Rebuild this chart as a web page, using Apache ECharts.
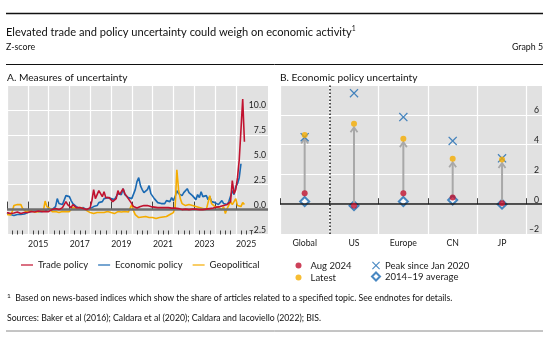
<!DOCTYPE html>
<html><head><meta charset="utf-8">
<script src="https://cdn.jsdelivr.net/npm/echarts@6/dist/echarts.min.js"></script>
<style>html,body{margin:0;padding:0;background:#fff}#c{width:550px;height:342px}</style>
</head><body><div id="c"></div>
<script>
// ---- Panel A: monthly z-scores, Jan 2014 onward ----
const startYear = 2014;
const tradePolicy = [
 -0.3,-0.35,-0.4,-0.3,-0.35,-0.3,-0.25,-0.3,-0.4,-0.35,-0.3,-0.25,
 -0.3,-0.25,-0.2,-0.3,-0.25,-0.2,-0.15,-0.25,-0.2,-0.3,-0.2,-0.25,
 -0.2,-0.1,0.0,-0.1,0.1,0.3,0.0,0.1,0.2,0.5,0.8,0.5,
 0.3,0.2,0.5,0.4,0.2,0.1,0.2,0.0,0.1,-0.1,0.0,0.1,
 0.2,0.9,2.0,1.1,1.5,1.9,1.7,1.3,1.8,1.2,1.0,1.2,
 1.0,0.8,0.9,1.1,1.9,1.5,1.3,2.1,1.6,1.4,1.1,0.9,
 0.6,0.3,0.2,0.15,0.2,0.3,0.35,0.4,0.3,0.4,0.5,0.3,
 0.3,0.25,0.2,0.2,0.15,0.2,0.25,0.2,0.15,0.2,0.1,0.15,
 0.1,0.15,0.2,0.1,0.05,0.0,0.1,0.05,-0.05,0.0,0.1,0.05,
 0.0,0.05,-0.05,0.0,0.1,0.0,-0.05,0.05,0.0,0.1,0.05,0.15,
 0.2,0.25,0.3,0.3,0.35,0.4,0.45,0.5,0.6,0.8,2.9,1.6,
 2.0,3.2,5.0,8.0,11.1,6.8
];
const economicPolicy = [
 -0.3,-0.45,-0.5,-0.55,-0.6,-0.45,-0.5,-0.6,-0.5,-0.4,-0.45,-0.35,
 -0.3,-0.4,-0.2,-0.3,-0.15,-0.35,-0.2,-0.1,-0.2,-0.05,-0.15,0.0,
 0.1,0.2,0.0,0.1,0.3,1.1,0.6,0.4,0.5,0.7,1.4,1.2,
 1.3,0.9,0.6,0.5,0.3,0.2,0.1,0.3,0.2,0.1,0.0,0.15,
 0.1,0.2,0.3,0.2,0.4,0.7,0.9,0.8,1.1,1.0,1.2,1.3,
 1.1,1.2,1.0,1.3,1.6,1.8,1.5,2.1,1.5,1.3,1.2,1.0,
 1.1,1.0,2.0,2.8,3.2,2.4,2.0,1.7,1.6,2.0,2.4,1.6,
 1.4,1.1,0.9,0.7,0.5,0.6,0.8,0.6,0.9,0.7,0.8,1.2,
 0.9,1.3,1.9,1.6,1.8,1.4,1.7,1.5,2.1,1.7,1.9,1.4,
 1.2,1.0,1.5,1.2,1.8,1.3,1.1,1.4,1.0,1.3,0.8,0.9,
 0.7,0.9,0.5,0.7,0.9,0.6,0.8,0.5,0.8,1.0,1.9,1.5,
 2.3,2.6,3.2,4.6
];
const geopolitical = [
 -0.5,-0.3,-0.55,-0.2,0.4,0.6,0.5,0.6,0.5,0.1,-0.1,-0.2,
 -0.3,-0.1,-0.3,-0.2,-0.35,-0.25,-0.3,-0.2,-0.25,-0.1,0.85,0.3,
 0.3,0.1,-0.2,-0.3,-0.2,-0.1,-0.3,-0.25,-0.2,-0.3,-0.2,-0.1,
 -0.2,0.0,0.2,0.3,0.1,0.0,0.2,0.3,0.1,0.0,-0.1,0.0,
 -0.3,-0.2,-0.4,-0.5,-0.3,-0.4,-0.3,-0.4,-0.3,-0.35,-0.2,-0.3,
 -0.3,-0.25,-0.4,-0.3,-0.2,-0.35,-0.25,-0.3,-0.2,-0.3,-0.25,-0.1,
 0.5,-0.1,-0.5,-0.7,-0.8,-0.7,-0.75,-0.8,-0.7,-0.85,-0.8,-0.7,
 -0.8,-0.75,-0.9,-1.0,-0.8,-0.7,-0.75,-0.6,-0.7,-0.6,-0.5,-0.4,
 -0.3,0.2,4.0,2.0,1.1,0.6,0.5,0.4,0.6,0.5,0.3,0.4,
 0.2,0.3,0.1,0.2,0.0,0.1,0.2,0.0,0.1,1.4,0.6,0.4,
 0.3,0.5,0.2,0.4,0.0,0.3,-0.4,0.1,0.3,0.8,0.5,0.6,
 1.1,0.4,0.6,0.3,0.7,0.5
];
const yearTicks = [2014,2015,2016,2017,2018,2019,2020,2021,2022,2023,2024,2025];
const yearLabels = [2015,2017,2019,2021,2023,2025];

// ---- Panel B ----
const countries = ['Global','US','Europe','CN','JP'];
const aug2024 = [0.74,-0.1,0.74,0.45,0.07];
const latest = [4.65,5.4,4.4,3.05,3.0];
const peakSince2020 = [4.5,7.45,5.85,4.25,3.08];
const avg2014_19 = [0.18,-0.1,0.18,0.28,0.0];

const RED='#c1122f', BLUE='#1b6ab3', YEL='#f5ac00', BG='#e1e1e1';
const FONT='Lato';
const toSeries = arr => arr.map((v,i)=>[startYear + i/12, v]);
const quarterTicks = [];
yearTicks.forEach(y=>{[0.25,0.5,0.75].forEach(q=>quarterTicks.push(y+q));});
const dash = v => (v<0?'\u2013':'') + Math.abs(v);
const X_PATH = 'path://M1,0 L5,4 L9,0 L10,1 L6,5 L10,9 L9,10 L5,6 L1,10 L0,9 L4,5 L0,1 Z';

const chart = echarts.init(document.getElementById('c'), null, {renderer:'canvas'});
const axisLabelStyle = {fontFamily:FONT, fontSize:8.7, color:'#1a1a1a'};
const legendText = {fontFamily:FONT, fontSize:9.5, color:'#1a1a1a'};
const option = {
  animation:false,
  textStyle:{fontFamily:FONT},
  grid:[
    {left:7, top:85, width:261, height:149.5, show:true, backgroundColor:BG, borderWidth:0},
    {left:280, top:85, width:262, height:149, show:true, backgroundColor:BG, borderWidth:0}
  ],
  xAxis:[
    {gridIndex:0, type:'value', position:'bottom', min:2014, max:2026.55,
     axisLine:{show:false},
     axisTick:{show:true, inside:true, length:8, customValues:yearTicks, lineStyle:{color:'#444', width:1}},
     splitLine:{show:true, lineStyle:{color:'#fff', width:1.2}},
     axisLabel:{customValues:yearLabels.map(y=>y+0.5), formatter:v=>String(Math.floor(v)), margin:5, ...axisLabelStyle}},
    {gridIndex:0, type:'value', position:'bottom', min:2014, max:2026.55,
     axisLine:{show:false},
     axisTick:{show:true, inside:true, length:4, customValues:quarterTicks, lineStyle:{color:'#444', width:1}},
     splitLine:{show:false}, axisLabel:{show:false}},
    {gridIndex:1, type:'value', position:'bottom', min:0, max:5.31,
     axisLine:{show:false},
     axisTick:{show:true, inside:true, length:6, customValues:[0,1,2,3,4,5], lineStyle:{color:'#444', width:1}},
     splitLine:{show:true, lineStyle:{color:'#fff', width:1.2}},
     axisLabel:{customValues:countries.map((c,i)=>i+0.5), formatter:v=>countries[Math.floor(v)], margin:5, ...axisLabelStyle}}
  ],
  yAxis:[
    {gridIndex:0, type:'value', position:'right', min:-2.5, max:12.5, interval:2.5,
     axisLine:{show:false}, axisTick:{show:false},
     splitLine:{show:true, lineStyle:{color:'#fff', width:1.2}},
     axisLabel:{inside:true, margin:2, showMaxLabel:false, verticalAlign:'bottom',
       formatter:v=>(v<0?'\u2013':'')+Math.abs(v).toFixed(1), ...axisLabelStyle}},
    {gridIndex:1, type:'value', position:'right', min:-2, max:8, interval:2,
     axisLine:{show:false}, axisTick:{show:false},
     splitLine:{show:true, lineStyle:{color:'#fff', width:1.2}},
     axisLabel:{inside:true, margin:3, showMaxLabel:false, verticalAlign:'bottom',
       formatter:v=>dash(v), ...axisLabelStyle}}
  ],
  legend:[
    {data:['Trade policy','Economic policy','Geopolitical'], left:16, top:255, icon:'rect',
     itemWidth:12, itemHeight:1.2, itemGap:10, selectedMode:false, textStyle:legendText},
    {data:['Aug 2024','Latest'], orient:'vertical', left:290.5, top:255.5, itemWidth:14, itemHeight:6, itemGap:2,
     selectedMode:false, textStyle:legendText},
    {data:['Peak since Jan 2020','2014\u201319 average'], orient:'vertical', left:366, top:255.5, itemWidth:8, itemHeight:8, itemGap:1,
     selectedMode:false, textStyle:legendText}
  ],
  series:[
    {name:'zeroA', type:'line', xAxisIndex:0, yAxisIndex:0, data:[], z:1,
     markLine:{silent:true, symbol:'none', label:{show:false}, data:[{yAxis:0}], lineStyle:{color:'#6e6e6e', width:2.5, type:'solid'}}},
    {name:'Trade policy', type:'line', xAxisIndex:0, yAxisIndex:0, data:toSeries(tradePolicy), showSymbol:false, z:5,
     lineStyle:{color:RED, width:1.6}, itemStyle:{color:RED}},
    {name:'Economic policy', type:'line', xAxisIndex:0, yAxisIndex:0, data:toSeries(economicPolicy), showSymbol:false, z:3,
     lineStyle:{color:BLUE, width:1.6}, itemStyle:{color:BLUE}},
    {name:'Geopolitical', type:'line', xAxisIndex:0, yAxisIndex:0, data:toSeries(geopolitical), showSymbol:false, z:4,
     lineStyle:{color:YEL, width:1.6}, itemStyle:{color:YEL}},
    {name:'zeroB', type:'line', xAxisIndex:2, yAxisIndex:1, data:[], z:1,
     markLine:{silent:true, symbol:'none', label:{show:false},
       data:[{yAxis:0, lineStyle:{color:'#1a1a1a', width:1.5, type:'solid'}},
             {xAxis:1, lineStyle:{color:'#1a1a1a', width:1.5, type:[1.5,2]}}]}},
    {name:'2014\u201319 average', type:'scatter', xAxisIndex:2, yAxisIndex:1, z:3,
     data:avg2014_19.map((v,i)=>[i+0.5, v]), symbol:'emptyDiamond', symbolSize:[9,9],
     itemStyle:{color:BLUE, borderWidth:1.6}},
    {name:'arrows', type:'custom', xAxisIndex:2, yAxisIndex:1, z:4, silent:true,
     encode:{x:0, y:[1,2]},
     data:aug2024.map((v,i)=>[i+0.5, v, latest[i]]),
     renderItem:(params, api)=>{
       const a = api.coord([api.value(0), api.value(1)]);
       const b = api.coord([api.value(0), api.value(2)]);
       const tip = b[1] + 3.5;
       return {type:'group', children:[
         {type:'line', shape:{x1:a[0], y1:a[1]-2, x2:a[0], y2:tip+1}, style:{stroke:'#a8a8a8', lineWidth:2}},
         {type:'polyline', shape:{points:[[a[0]-3.5, tip+5],[a[0], tip],[a[0]+3.5, tip+5]]}, style:{stroke:'#a8a8a8', lineWidth:1.8, fill:null}}
       ]};
     }},
    {name:'Aug 2024', type:'scatter', xAxisIndex:2, yAxisIndex:1, z:5,
     data:aug2024.map((v,i)=>[i+0.5, v]), symbol:'circle', symbolSize:6, itemStyle:{color:RED}},
    {name:'Peak since Jan 2020', type:'scatter', xAxisIndex:2, yAxisIndex:1, z:6,
     data:peakSince2020.map((v,i)=>[i+0.5, v]), symbol:X_PATH, symbolSize:9, itemStyle:{color:BLUE}},
    {name:'Latest', type:'scatter', xAxisIndex:2, yAxisIndex:1, z:7,
     data:latest.map((v,i)=>[i+0.5, v]), symbol:'circle', symbolSize:6, itemStyle:{color:YEL}}
  ],
  graphic:[
    {type:'line', shape:{x1:6, y1:13.5, x2:543, y2:13.5}, style:{stroke:'#111', lineWidth:1.5}},
    {type:'text', x:6, y:32.5, style:{text:'Elevated trade and policy uncertainty could weigh on economic activity{s|1}',
      fontFamily:FONT, fontSize:11.1, fill:'#111', verticalAlign:'middle',
      rich:{s:{fontSize:6.8, fontFamily:FONT, fill:'#111', verticalAlign:'top', padding:[0,0,7,0]}}}},
    {type:'text', x:6, y:47, style:{text:'Z-score', fontFamily:FONT, fontSize:8.8, fill:'#111', verticalAlign:'middle'}},
    {type:'text', x:543, y:47, style:{text:'Graph 5', fontFamily:FONT, fontSize:8.8, fill:'#111', align:'right', verticalAlign:'middle'}},
    {type:'line', shape:{x1:6, y1:64.5, x2:543, y2:64.5}, style:{stroke:'#111', lineWidth:1}},
    {type:'text', x:7, y:77.5, style:{text:'A. Measures of uncertainty', fontFamily:FONT, fontSize:10.2, fill:'#111', verticalAlign:'middle'}},
    {type:'text', x:280, y:77.5, style:{text:'B. Economic policy uncertainty', fontFamily:FONT, fontSize:10.2, fill:'#111', verticalAlign:'middle'}},
    {type:'text', x:7, y:298.5, style:{text:'{s|1}  Based on news-based indices which show the share of articles related to a specified topic. See endnotes for details.',
      fontFamily:FONT, fontSize:8.7, fill:'#111', verticalAlign:'middle',
      rich:{s:{fontSize:6.5, fontFamily:FONT, fill:'#111', padding:[0,0,5,0]}}}},
    {type:'text', x:7, y:318, style:{text:'Sources: Baker et al (2016); Caldara et al (2020); Caldara and Iacoviello (2022); BIS.',
      fontFamily:FONT, fontSize:8.7, fill:'#111', verticalAlign:'middle'}},
    {type:'line', shape:{x1:6, y1:331, x2:543, y2:331}, style:{stroke:'#8a8a8a', lineWidth:1}}
  ]
};
chart.setOption(option);
</script></body></html>
